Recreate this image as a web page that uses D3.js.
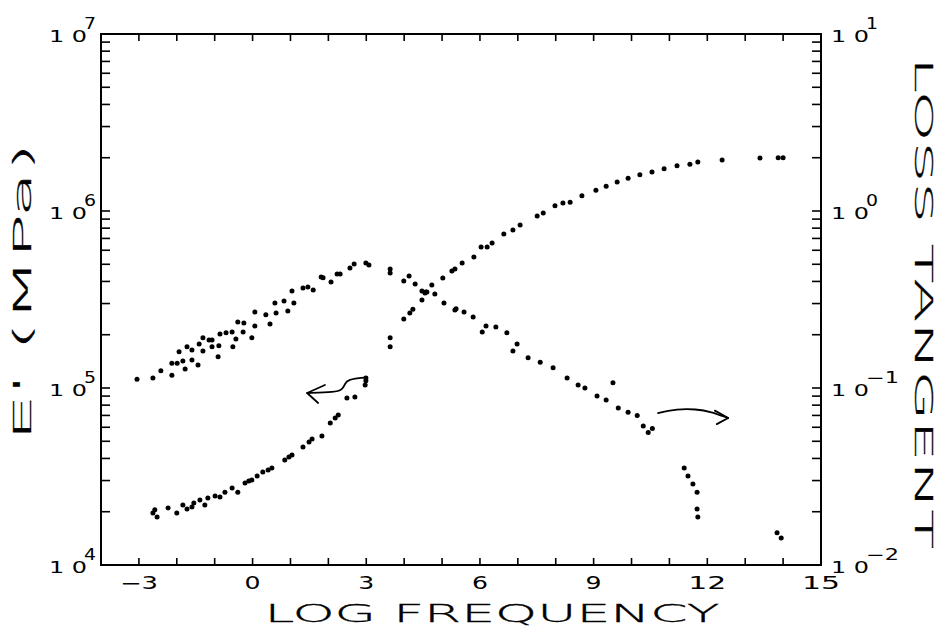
<!DOCTYPE html>
<html>
<head>
<meta charset="utf-8">
<script src="https://cdn.jsdelivr.net/npm/d3@7"></script>
<style>
  html, body { margin: 0; padding: 0; background: #fff; }
  svg { display: block; }
  text { font-family: "DejaVu Sans", sans-serif; fill: #000; }
</style>
</head>
<body>
<div id="chart"></div>
<script>
// E' (storage modulus, MPa) vs log frequency
const ePrimeFreq = [-2.63, -2.52, -2.58, -2.23, -2.0, -1.84, -1.73, -1.6, -1.55, -1.39, -1.26, -1.18, -0.99, -0.86,
  -0.73, -0.54, -0.39, -0.2, -0.1, -0.02, 0.12, 0.27, 0.41, 0.51, 0.85, 0.96, 1.04, 1.33, 1.49, 1.57, 1.83, 2.05,
  2.18, 2.26, 2.49, 2.7, 2.97, 2.99, 2.99,
  3.63, 3.63, 3.99, 4.15, 4.23, 4.47, 4.55, 4.6, 4.73, 5.02, 5.26, 5.34, 5.53, 5.84, 6.03, 6.19, 6.32, 6.63, 6.87,
  7.06, 7.51, 7.67, 7.98, 8.19, 8.38, 8.69, 9.06, 9.33, 9.62, 9.91, 10.22, 10.54, 10.86, 11.2, 11.54, 11.75,
  12.39, 13.39, 13.87, 14.0];
const ePrimeMPa = [19700, 18700, 20500, 21000, 19700, 21800, 20700, 21300, 22400, 23300, 21800, 23900, 24500, 24200,
  25800, 27200, 25800, 29100, 29800, 30200, 31800, 33500, 34400, 35300, 39200, 40700, 41800, 46400, 49500, 51500, 53600, 63400,
  67700, 70400, 87800, 88900, 104000, 114000, 110000,
  192000, 171000, 245000, 265000, 279000, 314000, 344000, 349000, 382000, 418000, 458000, 470000, 508000, 550000, 626000, 626000, 659000, 741000, 781000,
  834000, 937000, 975000, 1070000, 1110000, 1120000, 1220000, 1310000, 1380000, 1460000, 1530000, 1600000, 1660000, 1730000, 1800000, 1840000, 1890000,
  1940000, 1990000, 2000000, 2000000];

// loss tangent vs log frequency
const lossFreq = [-3.05, -2.63, -2.42, -2.13, -2.13, -1.99, -1.94, -1.84, -1.78, -1.73, -1.6, -1.6, -1.44, -1.41,
  -1.31, -1.31, -1.15, -1.07, -1.07, -0.91, -0.89, -0.86, -0.7, -0.54, -0.52, -0.44, -0.39, -0.25, -0.23, -0.02,
  0.06, 0.06, 0.35, 0.46, 0.59, 0.62, 0.83, 0.93, 1.04, 1.09, 1.33, 1.46, 1.6, 1.81, 1.86, 2.07, 2.23, 2.31,
  2.57, 2.68, 2.99, 3.07,
  3.63, 3.63, 3.99, 4.13, 4.29, 4.47, 4.57, 4.81, 5.05, 5.34, 5.37, 5.58, 5.82, 6.06, 6.16, 6.42, 6.71, 6.87, 6.98,
  7.27, 7.59, 7.93, 8.3, 8.59, 8.77, 9.09, 9.33, 9.51, 9.65, 9.91, 10.15, 10.31, 10.44, 10.55,
  11.39, 11.49, 11.62, 11.73, 11.73, 11.75, 13.84, 13.95];
const lossTan = [0.112, 0.114, 0.125, 0.118, 0.138, 0.138, 0.160, 0.142, 0.128, 0.171, 0.164, 0.144, 0.135, 0.177,
  0.192, 0.162, 0.187, 0.187, 0.171, 0.150, 0.173, 0.202, 0.205, 0.207, 0.171, 0.189, 0.236, 0.207, 0.233, 0.192,
  0.269, 0.224, 0.259, 0.230, 0.302, 0.265, 0.310, 0.272, 0.353, 0.302, 0.367, 0.372, 0.358, 0.424, 0.420, 0.397, 0.441, 0.441,
  0.476, 0.502, 0.508, 0.495,
  0.470, 0.446, 0.402, 0.429, 0.387, 0.353, 0.349, 0.340, 0.302, 0.276, 0.280, 0.269, 0.252, 0.207, 0.224, 0.221, 0.205, 0.162, 0.177,
  0.148, 0.140, 0.130, 0.114, 0.104, 0.100, 0.090, 0.0855, 0.107, 0.077, 0.073, 0.070, 0.061, 0.056, 0.059,
  0.0353, 0.0318, 0.0287, 0.0258, 0.0207, 0.0187, 0.0152, 0.0142];

// hand-drawn arrows: [log freq, value on own axis]
const arrowE = [[3.02, 115000], [2.49, 112000], [2.44, 105000], [2.36, 97500], [2.18, 94900], [1.44, 93700]];
const arrowEHead = [[1.91, 104000], [1.44, 93700], [1.73, 82300]];
const arrowT = [[10.7, 0.0722], [11.2, 0.0762], [11.7, 0.0760], [12.1, 0.0735], [12.55, 0.0677]];
const arrowTHead = [[12.2, 0.0745], [12.55, 0.0677], [12.25, 0.0625]];

const xDomain = [-4, 15];
const xTickLabels = [-3, 0, 3, 6, 9, 12, 15];
const leftExponents = [4, 5, 6, 7];
const rightExponents = [-2, -1, 0, 1];

const width = 938, height = 627;
const margin = {top: 34, right: 117, bottom: 62, left: 101};

const svg = d3.select("#chart").append("svg")
  .attr("width", width)
  .attr("height", height);

svg.append("rect").attr("width", width).attr("height", height).attr("fill", "white");

const x = d3.scaleLinear().domain(xDomain).range([margin.left, width - margin.right]);
const yL = d3.scaleLog().domain([1e4, 1e7]).range([height - margin.bottom, margin.top]);
const yR = d3.scaleLog().domain([1e-2, 1e1]).range([height - margin.bottom, margin.top]);

const x0 = x.range()[0], x1 = x.range()[1];
const yb = yL.range()[0], yt = yL.range()[1];

// frame
svg.append("rect")
  .attr("x", x0).attr("y", yt)
  .attr("width", x1 - x0).attr("height", yb - yt)
  .attr("fill", "none").attr("stroke", "#000").attr("stroke-width", 2);

const tickG = svg.append("g").attr("stroke", "#000").attr("stroke-width", 1.6);

// x ticks, every unit, top and bottom, pointing inward
d3.range(xDomain[0] + 1, xDomain[1]).forEach(v => {
  tickG.append("line").attr("x1", x(v)).attr("x2", x(v)).attr("y1", yb).attr("y2", yb - 7);
  tickG.append("line").attr("x1", x(v)).attr("x2", x(v)).attr("y1", yt).attr("y2", yt + 7);
});

// log ticks left and right
function logTicks(scale, xPos, dir) {
  const [lo, hi] = scale.domain();
  const e0 = Math.round(Math.log10(lo)), e1 = Math.round(Math.log10(hi));
  for (let e = e0; e < e1; e++) {
    for (let m = 1; m <= 9; m++) {
      const v = m * Math.pow(10, e);
      if (m === 1 && e === e0) continue;
      tickG.append("line")
        .attr("x1", xPos).attr("x2", xPos + dir * 9)
        .attr("y1", scale(v)).attr("y2", scale(v));
    }
  }
}
logTicks(yL, x0, 1);
logTicks(yR, x1, -1);

// x tick labels
svg.append("g").selectAll("text")
  .data(xTickLabels)
  .enter().append("text")
    .attr("x", d => x(d))
    .attr("y", yb + 24)
    .attr("text-anchor", "middle")
    .style("font-size", "17px")
    .attr("textLength", d => String(d).length * 22 - 6)
    .attr("lengthAdjust", "spacingAndGlyphs")
    .text(d => d < 0 ? "\u2212" + Math.abs(d) : d);

// "1 0" labels with exponents
function powLabel(xBase, yPos, exp, anchorLeft) {
  const g = svg.append("g");
  const baseX = anchorLeft ? xBase : xBase - 40;
  g.append("text")
    .attr("x", baseX).attr("y", yPos + 8)
    .style("font-size", "16px")
    .attr("textLength", 38)
    .attr("lengthAdjust", "spacingAndGlyphs")
    .text("1 0");
  g.append("text")
    .attr("x", baseX + 35).attr("y", yPos - 5)
    .style("font-size", "15px")
    .attr("textLength", exp < 0 ? 33 : 12)
    .attr("lengthAdjust", "spacingAndGlyphs")
    .text(exp < 0 ? "\u2212" + Math.abs(exp) : exp);
}
leftExponents.forEach(e => powLabel(x0 - 12, yL(Math.pow(10, e)), e, false));
rightExponents.forEach(e => powLabel(x1 + 10, yR(Math.pow(10, e)), e, true));

// axis titles
function title(t) {
  return t.style("font-size", "24px")
    .style("font-weight", "200")
    .attr("stroke", "#000")
    .attr("stroke-width", 0.3)
    .attr("text-anchor", "middle")
    .attr("lengthAdjust", "spacingAndGlyphs");
}
title(svg.append("text"))
  .attr("x", 492)
  .attr("y", 622)
  .attr("textLength", 455)
  .text("LOG FREQUENCY");

title(svg.append("text"))
  .attr("transform", "translate(31,292) rotate(-90)")
  .attr("textLength", 298)
  .text("E' (MPa)");

title(svg.append("text"))
  .attr("transform", "translate(915,303) rotate(90)")
  .attr("textLength", 492)
  .text("LOSS TANGENT");

// data points
const ePts = ePrimeFreq.map((f, i) => ({f: f, v: ePrimeMPa[i]}));
const tPts = lossFreq.map((f, i) => ({f: f, v: lossTan[i]}));

svg.append("g").selectAll("circle")
  .data(ePts)
  .enter().append("circle")
    .attr("cx", d => x(d.f))
    .attr("cy", d => yL(d.v))
    .attr("r", 2.5)
    .attr("fill", "#000");

svg.append("g").selectAll("circle")
  .data(tPts)
  .enter().append("circle")
    .attr("cx", d => x(d.f))
    .attr("cy", d => yR(d.v))
    .attr("r", 2.5)
    .attr("fill", "#000");

// arrows
const lineL = d3.line().x(d => x(d[0])).y(d => yL(d[1]));
const lineR = d3.line().x(d => x(d[0])).y(d => yR(d[1]));
const arrowG = svg.append("g").attr("fill", "none").attr("stroke", "#000").attr("stroke-width", 1.8)
  .attr("stroke-linecap", "round").attr("stroke-linejoin", "round");
arrowG.append("path").attr("d", lineL.curve(d3.curveBasis)(arrowE));
arrowG.append("path").attr("d", d3.line().x(d => x(d[0])).y(d => yL(d[1]))(arrowEHead));
arrowG.append("path").attr("d", lineR.curve(d3.curveBasis)(arrowT));
arrowG.append("path").attr("d", d3.line().x(d => x(d[0])).y(d => yR(d[1]))(arrowTHead));
</script>
</body>
</html>
